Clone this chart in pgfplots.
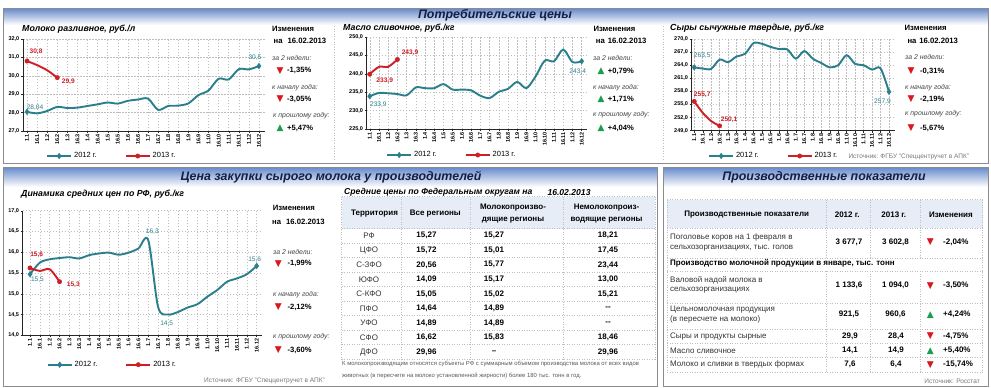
\documentclass[border=0pt]{standalone}
\usepackage{fontspec}
\setmainfont{Liberation Sans}
\newfontfamily\dejavu{DejaVu Sans}
\usepackage{pgfplots}
\pgfplotsset{compat=1.18}
\definecolor{c12}{RGB}{42,127,140}
\definecolor{c13}{RGB}{206,30,38}
\definecolor{navy}{RGB}{20,30,70}
\definecolor{hdr}{RGB}{105,140,203}
\definecolor{bord}{RGB}{140,140,140}
\definecolor{gridc}{RGB}{190,190,190}
\definecolor{thbg}{RGB}{230,237,246}
\definecolor{tred}{RGB}{218,22,30}
\definecolor{tgreen}{RGB}{26,158,78}
\definecolor{lbl}{RGB}{70,70,70}
\definecolor{src}{RGB}{120,120,120}
\newcommand\fs[2]{\fontsize{#1}{#2}\selectfont}
\newcommand\dn{\textcolor{tred}{\dejavu\fs{9}{9}▼}}
\newcommand\up{\textcolor{tgreen}{\dejavu\fs{9}{9}▲}}
\pgfplotsset{
  dash/.style={
    scale only axis, clip=false,
    axis x line=bottom, axis y line=left,
    axis line style={-, black!85, line width=0.6pt},
    xtick={0,...,23},
    xticklabels={1.1,16.1,1.2,16.2,1.3,16.3,1.4,16.4,1.5,16.5,1.6,16.6,1.7,16.7,1.8,16.8,1.9,16.9,1.10,16.10,1.11,16.11,1.12,16.12},
    x tick label style={rotate=90, anchor=east, font=\fs{5.5}{6}\bfseries, inner sep=1pt},
    y tick label style={font=\fs{5.5}{6}\bfseries, inner sep=1.5pt, /pgf/number format/.cd, fixed, fixed zerofill, precision=1, use comma, assume math mode=true},
    grid=major,
    major grid style={gridc, dash pattern=on 1.5pt off 1.5pt, line width=0.45pt},
    tick align=outside, major tick length=2pt,
    tick style={black!85, line width=0.4pt},
    legend columns=2,
    legend style={draw=none, fill=none, font=\fs{7.5}{8}, inner sep=0pt, anchor=west,
      /tikz/every even column/.append style={column sep=26pt}},
    legend cell align=left,
    legend image code/.code={\draw[##1, mark indices={2}] plot coordinates {(0pt,0pt) (12pt,0pt) (24pt,0pt)};},
  },
  s12/.style={c12, line width=1.9pt, smooth, mark=diamond*, mark size=2.8pt, mark options={solid, fill=c12, draw=c12, line width=0.4pt}},
  s13/.style={c13, line width=1.9pt, smooth, mark=*, mark size=2.2pt, mark options={solid, fill=c13, draw=c13, line width=0.4pt}, mark indices={1,4}},
}
\tikzset{
  lab12/.style={text=c12, font=\fs{6.6}{7}, inner sep=0pt},
  lab13/.style={text=c13, font=\fs{6.6}{7}\bfseries, inner sep=0pt},
  ttl/.style={anchor=west, font=\fs{8.8}{10}\bfseries\itshape, inner sep=0pt},
  hd/.style={font=\fs{12.4}{13}\bfseries\itshape, text=navy, inner sep=0pt},
  izm/.style={anchor=west, font=\fs{7.7}{9}\bfseries, inner sep=0pt},
  per/.style={anchor=west, font=\fs{6.9}{8}\itshape, text=lbl, inner sep=0pt},
  pct/.style={anchor=west, font=\fs{7.6}{9}\bfseries, inner sep=0pt},
  tri/.style={inner sep=0pt},
  tn/.style={font=\fs{8}{9}, text=black!80, inner sep=0pt},
  tb/.style={font=\fs{8}{9}\bfseries, inner sep=0pt},
  tbl/.style={gridc, dotted, line width=0.5pt},
  srcs/.style={font=\fs{6.5}{7}, text=src, inner sep=0pt},
}
\newcommand\mrow[5]{%
  \node[tn] at (369,#1) {#2};
  \node[tb] at (426.5,#1) {#3};
  \node[tb] at (494,#1) {#4};
  \node[tb] at (608,#1) {#5};}
\begin{document}
\begin{tikzpicture}
\begin{scope}[x=1pt,y=-1pt]
\useasboundingbox (0,0) rectangle (991,388);
\fill[white] (0,0) rectangle (991,388);
% top panel
\shade[top color=hdr, bottom color=white] (3.5,8.5) rectangle (988.5,25);
\draw[bord, line width=1pt] (3.5,8.5) rectangle (988.5,163);
\draw[gridc, dotted, line width=0.6pt] (334,26) -- (334,160);
\draw[gridc, dotted, line width=0.6pt] (663,26) -- (663,160);
% bottom panels
\shade[top color=hdr, bottom color=white] (3.5,167.5) rectangle (657.5,187);
\draw[bord, line width=1pt] (3.5,167.5) rectangle (657.5,386.5);
\shade[top color=hdr, bottom color=white] (663,167.5) rectangle (988.5,187);
\draw[bord, line width=1pt] (663,167.5) rectangle (988.5,386.5);
\end{scope}

% ---------- Chart 1: milk ----------
\begin{axis}[dash, at={(23pt,-39pt)}, anchor=north west, width=242pt, height=92pt,
  xmin=-0.4, xmax=23.6, ymin=27, ymax=32, ytick={27,28,...,32},
  legend style={at={(0.095,-0.272)}}]
\addplot[s12, mark indices={1,24}] coordinates {(0,28.04)(1,27.96)(2,28.09)(3,28.31)(4,28.25)(5,28.27)(6,28.36)(7,28.45)(8,28.55)(9,28.49)(10,28.64)(11,28.71)(12,28.76)(13,28.15)(14,28.36)(15,28.38)(16,28.50)(17,28.95)(18,29.20)(19,29.84)(20,29.80)(21,30.36)(22,30.35)(23,30.53)};
\addlegendentry{2012 г.}
\addplot[s13] coordinates {(0,30.8)(1,30.58)(2,30.3)(3,29.9)};
\addlegendentry{2013 г.}
\node[lab12, xshift=8pt, yshift=4.5pt] at (axis cs:0,28.04) {28,04};
\node[lab12, xshift=-4pt, yshift=8.5pt] at (axis cs:23,30.53) {30,5};
\node[lab13, xshift=9pt, yshift=9.5pt] at (axis cs:0,30.8) {30,8};
\node[lab13, xshift=11pt, yshift=-3.7pt] at (axis cs:3,29.9) {29,9};
\end{axis}

% ---------- Chart 2: butter ----------
\begin{axis}[dash, at={(366.7pt,-37pt)}, anchor=north west, width=220.5pt, height=92pt,
  xmin=-0.33, xmax=23.6, ymin=225, ymax=250, ytick={225,230,...,250},
  legend style={at={(0.0875,-0.283)}}]
\addplot[s12, mark indices={1,24}] coordinates {(0,233.9)(1,234.8)(2,234.7)(3,234.5)(4,234.15)(5,236.3)(6,236.1)(7,236.1)(8,237.2)(9,235.7)(10,235.7)(11,235.5)(12,234.05)(13,233.4)(14,235.1)(15,235.9)(16,237.8)(17,236.1)(18,239.3)(19,243.6)(20,243.4)(21,246.6)(22,243.2)(23,243.4)};
\addlegendentry{2012 г.}
\addplot[s13] coordinates {(0,239.9)(1,241.9)(2,241.9)(3,243.9)};
\addlegendentry{2013 г.}
\node[lab12, xshift=8.6pt, yshift=-8.8pt] at (axis cs:0,233.9) {233,9};
\node[lab12, xshift=-4pt, yshift=-10.8pt] at (axis cs:23,243.4) {243,4};
\node[lab13, xshift=15pt, yshift=-7pt] at (axis cs:0,239.9) {233,9};
\node[lab13, xshift=12.7pt, yshift=7pt] at (axis cs:3,243.9) {243,9};
\end{axis}

% ---------- Chart 3: cheese ----------
\begin{axis}[dash, at={(691.7pt,-39pt)}, anchor=north west, width=203.2pt, height=91.7pt,
  xmin=-0.3, xmax=23.7, ymin=249, ymax=270, ytick={249,252,...,270},
  legend style={at={(0.08,-0.276)}}]
\addplot[s12, mark indices={1,24}] coordinates {(0,263.5)(1,263.24)(2,263.16)(3,265.3)(4,264.7)(5,266.0)(6,266.6)(7,269.06)(8,268.9)(9,268.2)(10,267.7)(11,267.6)(12,265.5)(13,267.25)(14,265.5)(15,264.5)(16,263.5)(17,264.0)(18,266.3)(19,264.3)(20,264.0)(21,263.0)(22,263.3)(23,257.9)};
\addlegendentry{2012 г.}
\addplot[s13] coordinates {(0,255.7)(1,253.1)(2,251.2)(3,250.1)};
\addlegendentry{2013 г.}
\node[lab12, xshift=8pt, yshift=12pt] at (axis cs:0,263.5) {263,5};
\node[lab12, xshift=-6.5pt, yshift=-9.3pt] at (axis cs:23,257.9) {257,9};
\node[lab13, xshift=8pt, yshift=7pt] at (axis cs:0,255.7) {255,7};
\node[lab13, xshift=9.5pt, yshift=6.3pt] at (axis cs:3,250.1) {250,1};
\end{axis}

% ---------- Chart 4: raw milk ----------
\begin{axis}[dash, at={(22.7pt,-210.7pt)}, anchor=north west, width=238.9pt, height=124.6pt,
  xmin=-0.74, xmax=23.5, ymin=14, ymax=17, ytick={14,14.5,...,17},
  legend style={at={(0.1,-0.236)}}]
\addplot[s12, mark indices={1,24}] coordinates {(0,15.47)(1,15.75)(2,15.83)(3,15.86)(4,15.88)(5,15.85)(6,15.93)(7,15.97)(8,15.99)(9,15.94)(10,15.99)(11,16.09)(12,16.29)(13,14.68)(14,14.50)(15,14.56)(16,14.67)(17,14.75)(18,14.93)(19,15.09)(20,15.29)(21,15.37)(22,15.47)(23,15.67)};
\addlegendentry{2012 г.}
\addplot[s13] coordinates {(0,15.62)(1,15.55)(2,15.59)(3,15.29)};
\addlegendentry{2013 г.}
\node[lab12, xshift=7.5pt, yshift=-5.8pt] at (axis cs:0,15.47) {15,5};
\node[lab12, xshift=4pt, yshift=9pt] at (axis cs:12,16.29) {16,3};
\node[lab12, xshift=-1.3pt, yshift=-8.8pt] at (axis cs:14,14.5) {14,5};
\node[lab12, xshift=-2pt, yshift=6.6pt] at (axis cs:23,15.67) {15,6};
\node[lab13, xshift=6.7pt, yshift=13pt] at (axis cs:0,15.62) {15,6};
\node[lab13, xshift=13.7pt, yshift=-3.3pt] at (axis cs:3,15.29) {15,3};
\end{axis}

\begin{scope}[x=1pt,y=-1pt]
% headers
\node[hd] at (495,15) {Потребительские цены};
\node[hd] at (331,177) {Цена закупки сырого молока у производителей};
\node[hd] at (824,177.5) {Производственные показатели};
% titles
\node[ttl] at (22,29) {Молоко разливное, руб./л};
\node[ttl] at (343,28.3) {Масло сливочное, руб./кг};
\node[ttl] at (670,28.3) {Сыры сычужные твердые, руб./кг};
\node[ttl] at (21,193.7) {Динамика средних цен по РФ, руб./кг};
% info chart 1
\node[izm] at (272,29) {Изменения};
\node[izm] at (273.5,41) {на\hspace{5pt}16.02.2013};
\node[per] at (272,57.7) {за 2 недели:};
\node[tri] at (280,70.7) {\dn}; \node[pct] at (287,70.7) {-1,35\%};
\node[per] at (272,87.3) {к началу года:};
\node[tri] at (280,99.3) {\dn}; \node[pct] at (287,99.3) {-3,05\%};
\node[per] at (273,116) {к прошлому году:};
\node[tri] at (280,128.3) {\up}; \node[pct] at (287,128.3) {+5,47\%};
% info chart 2
\node[izm] at (593.3,29) {Изменения};
\node[izm] at (595.7,41) {на\hspace{3pt}16.02.2013};
\node[per] at (593,57.7) {за 2 недели:};
\node[tri] at (601,71) {\up}; \node[pct] at (607.7,71) {+0,79\%};
\node[per] at (593,87.3) {к началу года:};
\node[tri] at (601,99.3) {\up}; \node[pct] at (607.7,99.3) {+1,71\%};
\node[per] at (593,115) {к прошлому году:};
\node[tri] at (601,128.3) {\up}; \node[pct] at (607.7,128.3) {+4,04\%};
% info chart 3
\node[izm] at (904.5,28) {Изменения};
\node[izm] at (907.3,40.7) {на\hspace{3pt}16.02.2013};
\node[per] at (905,57.3) {за 2 недели:};
\node[tri] at (911.2,71) {\dn}; \node[pct] at (920,71) {-0,31\%};
\node[per] at (905,87.3) {к началу года:};
\node[tri] at (911.2,99.3) {\dn}; \node[pct] at (920,99.3) {-2,19\%};
\node[per] at (905,114) {к прошлому году:};
\node[tri] at (911.2,128.3) {\dn}; \node[pct] at (920,128.3) {-5,67\%};
\node[srcs, anchor=west] at (848.3,156.5) {Источник: ФГБУ "Спеццентручет в АПК"};
% info chart 4
\node[izm] at (272.7,208) {Изменения};
\node[izm] at (272,222) {на\hspace{5pt}16.02.2013};
\node[per] at (273,252.3) {за 2 недели:};
\node[tri] at (278.3,263.7) {\dn}; \node[pct] at (287.3,263.7) {-1,99\%};
\node[per] at (273,294.7) {к началу года:};
\node[tri] at (278.3,307.3) {\dn}; \node[pct] at (287.3,307.3) {-2,12\%};
\node[per] at (273,337) {к прошлому году:};
\node[tri] at (278.3,350.3) {\dn}; \node[pct] at (287.3,350.3) {-3,60\%};
\node[srcs, anchor=west] at (204,381.3) {Источник: ФГБУ "Спеццентручет в АПК"};

% ---------- middle table ----------
\node[ttl, font=\fs{8.6}{10}\bfseries\itshape] at (344,192.3) {Средние цены по Федеральным округам на};
\node[ttl, font=\fs{8.6}{10}\bfseries\itshape] at (547.3,192.3) {16.02.2013};
\fill[thbg] (341.7,196.5) rectangle (655,228.5);
\foreach \y in {196.5,228.5,243.03,257.56,272.09,286.62,301.15,315.68,330.21,344.74,359.27}
  \draw[tbl] (341.7,\y) -- (655,\y);
\foreach \x in {341.7,401.7,470,563.3,655}
  \draw[tbl] (\x,196.5) -- (\x,359.27);
\node[tb] at (374.5,214) {Территория};
\node[tb] at (435.3,214) {Все регионы};
\node[tb] at (513,207.5) {Молокопроизво-};
\node[tb] at (513,220.5) {дящие регионы};
\node[tb] at (606.5,207.5) {Немолокопроиз-};
\node[tb] at (606.5,220.5) {водящие регионы};
\mrow{235.77}{РФ}{15,27}{15,27}{18,21}
\mrow{250.3}{ЦФО}{15,72}{15,01}{17,45}
\mrow{264.83}{С-ЗФО}{20,56}{15,77}{23,44}
\mrow{279.36}{ЮФО}{14,09}{15,17}{13,00}
\mrow{293.89}{С-КФО}{15,05}{15,02}{15,21}
\mrow{308.42}{ПФО}{14,64}{14,89}{-{}-}
\mrow{322.95}{УФО}{14,89}{14,89}{-{}-}
\mrow{337.48}{СФО}{16,62}{15,83}{18,46}
\mrow{352.01}{ДФО}{29,96}{–}{29,96}
\node[font=\fs{5.9}{7}, text=black!65, anchor=west, inner sep=0pt] at (342,364.3) {К молокопроизводящим относятся субъекты РФ с суммарным объемом производства молока от всех видов};
\node[font=\fs{5.9}{7}, text=black!65, anchor=west, inner sep=0pt] at (342,375.5) {животных (в пересчете на молоко установленной жирности) более 180 тыс. тонн в год.};

% ---------- right table ----------
\fill[thbg] (667,199.7) rectangle (982.7,228);
\foreach \y in {199.7,228,258,271.3,303,329,343,357.3,372.3}
  \draw[tbl] (667,\y) -- (982.7,\y);
\foreach \x in {667,982.7} \draw[tbl] (\x,199.7) -- (\x,372.3);
\foreach \x in {826.7,870,920} {\draw[tbl] (\x,199.7) -- (\x,258); \draw[tbl] (\x,271.3) -- (\x,372.3);}
\node[tb] at (746.7,214.7) {Производственные показатели};
\node[tb] at (847.2,214.7) {2012 г.};
\node[tb] at (893.8,214.7) {2013 г.};
\node[tb] at (951,214.7) {Изменения};
\node[tn, anchor=west] at (670,237) {Поголовье коров на 1 февраля в};
\node[tn, anchor=west] at (670,248) {сельхозорганизациях, тыс. голов};
\node[tb] at (849,242.5) {3 677,7};
\node[tb] at (895.5,242.5) {3 602,8};
\node[tri] at (930.3,242.5) {\dn}; \node[tb, anchor=west] at (943,242.5) {-2,04\%};
\node[tb, anchor=west] at (670,263.7) {Производство молочной продукции в январе, тыс. тонн};
\node[tn, anchor=west] at (670,280.3) {Валовой надой молока в};
\node[tn, anchor=west] at (670,290.3) {сельхозорганизациях};
\node[tb] at (849,285.7) {1 133,6};
\node[tb] at (895.5,285.7) {1 094,0};
\node[tri] at (930.3,285.7) {\dn}; \node[tb, anchor=west] at (943,285.7) {-3,50\%};
\node[tn, anchor=west] at (670,309.7) {Цельномолочная продукция};
\node[tn, anchor=west] at (670,319.7) {(в пересчете на молоко)};
\node[tb] at (849,314.7) {921,5};
\node[tb] at (895.5,314.7) {960,6};
\node[tri] at (930.3,314.7) {\up}; \node[tb, anchor=west] at (943,314.7) {+4,24\%};
\node[tn, anchor=west] at (670,336.3) {Сыры и продукты сырные};
\node[tb] at (850,336.3) {29,9};
\node[tb] at (896,336.3) {28,4};
\node[tri] at (930.3,336.3) {\dn}; \node[tb, anchor=west] at (943,336.3) {-4,75\%};
\node[tn, anchor=west] at (670,350.7) {Масло сливочное};
\node[tb] at (850,350.7) {14,1};
\node[tb] at (896,350.7) {14,9};
\node[tri] at (930.3,350.7) {\up}; \node[tb, anchor=west] at (943,350.7) {+5,40\%};
\node[tn, anchor=west] at (670,364.7) {Молоко и сливки в твердых формах};
\node[tb] at (850,364.7) {7,6};
\node[tb] at (896,364.7) {6,4};
\node[tri] at (930.3,364.7) {\dn}; \node[tb, anchor=west] at (943,364.7) {-15,74\%};
\node[srcs, anchor=east] at (980,381) {Источник: Росстат};
\end{scope}
\end{tikzpicture}
\end{document}
